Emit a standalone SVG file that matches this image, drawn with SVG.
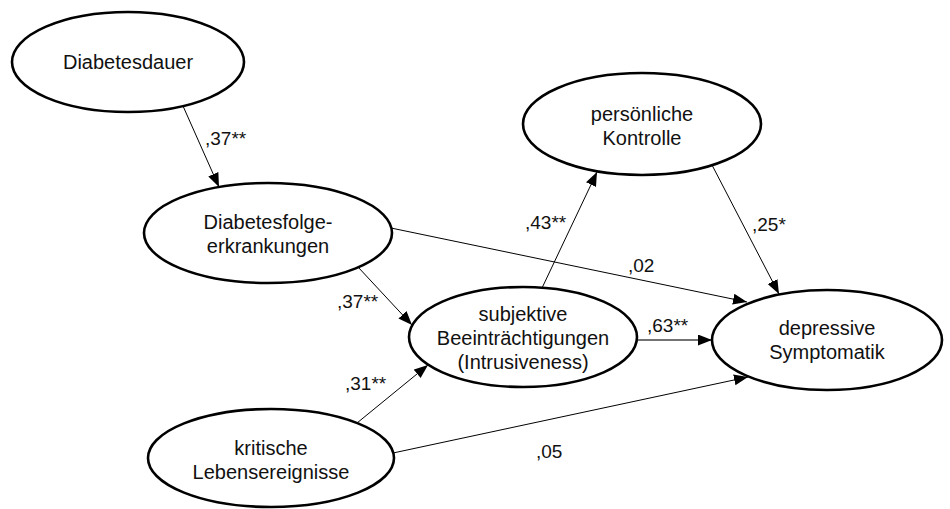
<svg xmlns="http://www.w3.org/2000/svg" width="950" height="509" viewBox="0 0 950 509">
<defs>
<marker id="ah" markerUnits="userSpaceOnUse" markerWidth="14" markerHeight="12" refX="14" refY="5.5" orient="auto">
<path d="M0,0 L14,5.5 L0,11 z" fill="#000"/>
</marker>
<style>
.node ellipse{fill:#fff;stroke:#000;stroke-width:2.6}
.node text{font-family:"Liberation Sans",Arial,sans-serif;font-size:20px;fill:#111;text-anchor:middle}
.edge line{stroke:#000;stroke-width:1}
.lbl{font-family:"Liberation Sans",Arial,sans-serif;font-size:19px;fill:#111}
</style>
</defs>
<rect width="950" height="509" fill="#fff"/>
<g id="connectors" class="edge">
<line x1="183" y1="106" x2="219" y2="187" marker-end="url(#ah)"/>
<line x1="358" y1="267" x2="412" y2="325" marker-end="url(#ah)"/>
<line x1="357" y1="423" x2="428" y2="365" marker-end="url(#ah)"/>
<line x1="542" y1="288" x2="597" y2="172" marker-end="url(#ah)"/>
<line x1="712" y1="165" x2="779" y2="294" marker-end="url(#ah)"/>
<line x1="391" y1="228" x2="747" y2="302" marker-end="url(#ah)"/>
<line x1="637" y1="340" x2="712" y2="340" style="stroke:#444;stroke-width:1.6" marker-end="url(#ah)"/>
<line x1="393" y1="453" x2="748" y2="377" marker-end="url(#ah)"/>
<text class="lbl" x="205" y="145">,37**</text>
<text class="lbl" x="337" y="308">,37**</text>
<text class="lbl" x="345" y="390">,31**</text>
<text class="lbl" x="525" y="229">,43**</text>
<text class="lbl" x="752" y="231">,25*</text>
<text class="lbl" x="628" y="272">,02</text>
<text class="lbl" x="647" y="332">,63**</text>
<text class="lbl" x="536" y="458">,05</text>
</g>
<g id="n-diabetesdauer" class="node">
<ellipse cx="128" cy="62" rx="116" ry="50"/>
<text x="128" y="69">Diabetesdauer</text>
</g>
<g id="n-folge" class="node">
<ellipse cx="268" cy="233" rx="124" ry="50"/>
<text x="268" y="229">Diabetesfolge-</text>
<text x="268" y="253">erkrankungen</text>
</g>
<g id="n-subjektiv" class="node">
<ellipse cx="523" cy="337" rx="114" ry="50"/>
<text x="523" y="321">subjektive</text>
<text x="523" y="345">Beeinträchtigungen</text>
<text x="523" y="369">(Intrusiveness)</text>
</g>
<g id="n-kontrolle" class="node">
<ellipse cx="642" cy="124" rx="119" ry="51"/>
<text x="642" y="121">persönliche</text>
<text x="642" y="145">Kontrolle</text>
</g>
<g id="n-depressiv" class="node">
<ellipse cx="827" cy="340" rx="115" ry="50"/>
<text x="827" y="335">depressive</text>
<text x="827" y="359">Symptomatik</text>
</g>
<g id="n-kritisch" class="node">
<ellipse cx="271" cy="458" rx="123" ry="49"/>
<text x="271" y="455">kritische</text>
<text x="271" y="479">Lebensereignisse</text>
</g>
</svg>
